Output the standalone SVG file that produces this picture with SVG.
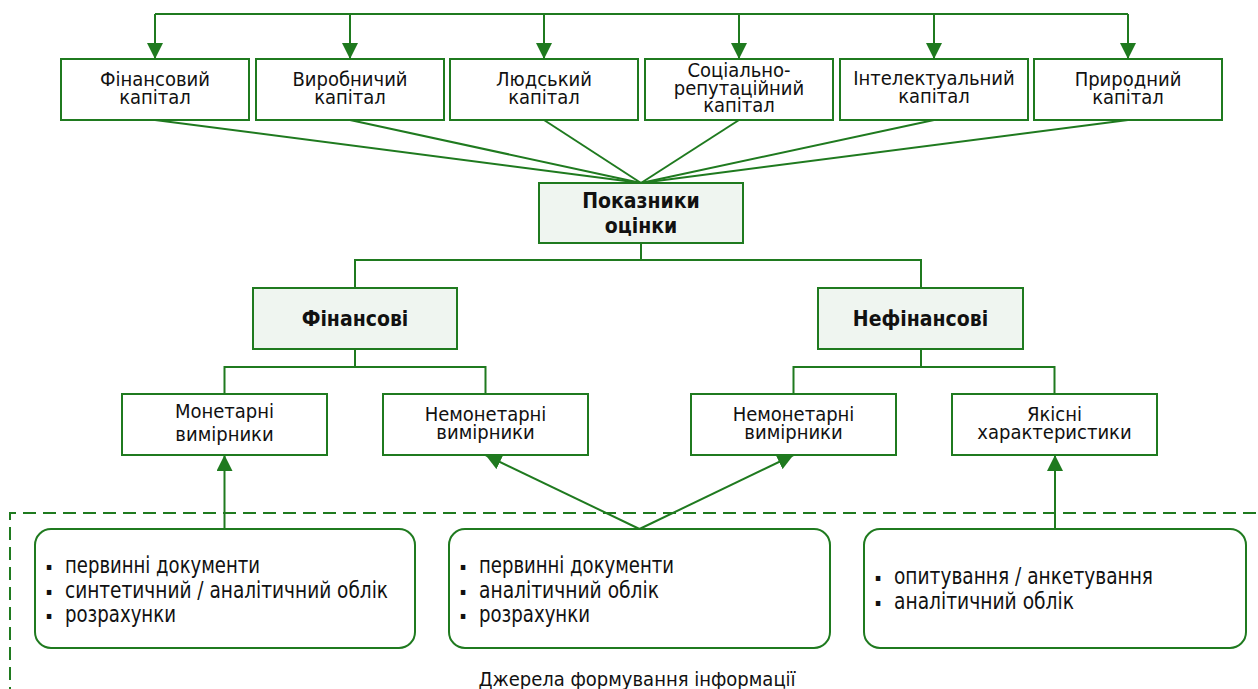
<svg xmlns="http://www.w3.org/2000/svg" width="1258" height="689" viewBox="0 0 1258 689">
<style>
.box{fill:#ffffff;stroke:#1f7a1f;stroke-width:2}
.hbox{fill:#eff5f0;stroke:#1f7a1f;stroke-width:2}
.rbox{fill:#ffffff;stroke:#1f7a1f;stroke-width:2}
.ln{fill:none;stroke:#1f7a1f;stroke-width:2}
.dash{fill:none;stroke:#1f7a1f;stroke-width:2;stroke-dasharray:13 7}
text{font-family:"DejaVu Sans Condensed","DejaVu Sans",sans-serif;font-stretch:condensed;font-size:20px;fill:#111}
.c{text-anchor:middle}
.b{font-weight:bold;font-size:21px}
.li{font-size:23px}
.bu{font-size:10px}
</style>
<defs>
<marker id="arr" markerUnits="userSpaceOnUse" markerWidth="16" markerHeight="16" refX="16" refY="8" orient="auto">
<path d="M0,0 L16,8 L0,16 z" fill="#1f7a1f"/>
</marker>
</defs>
<g id="connectors">
<path class="ln" d="M155,14 H1128"/>
<line class="ln" x1="155" y1="14" x2="155" y2="59" marker-end="url(#arr)"/>
<line class="ln" x1="350" y1="14" x2="350" y2="59" marker-end="url(#arr)"/>
<line class="ln" x1="544" y1="14" x2="544" y2="59" marker-end="url(#arr)"/>
<line class="ln" x1="739" y1="14" x2="739" y2="59" marker-end="url(#arr)"/>
<line class="ln" x1="934" y1="14" x2="934" y2="59" marker-end="url(#arr)"/>
<line class="ln" x1="1128" y1="14" x2="1128" y2="59" marker-end="url(#arr)"/>
<line class="ln" x1="155" y1="120" x2="641" y2="183"/>
<line class="ln" x1="350" y1="120" x2="641" y2="183"/>
<line class="ln" x1="544" y1="120" x2="641" y2="183"/>
<line class="ln" x1="739" y1="120" x2="641" y2="183"/>
<line class="ln" x1="934" y1="120" x2="641" y2="183"/>
<line class="ln" x1="1128" y1="120" x2="641" y2="183"/>
<path class="ln" d="M641,243 V260 M355,288 V260 H921 V288"/>
<path class="ln" d="M355,349 V367 M224.5,394 V367 H485.5 V394"/>
<path class="ln" d="M921,349 V367 M793.5,394 V367 H1054.5 V394"/>
<line class="ln" x1="224.5" y1="529" x2="224.5" y2="455" marker-end="url(#arr)"/>
<line class="ln" x1="639.5" y1="529" x2="485.5" y2="455" marker-end="url(#arr)"/>
<line class="ln" x1="639.5" y1="529" x2="793.5" y2="455" marker-end="url(#arr)"/>
<line class="ln" x1="1055" y1="529" x2="1055" y2="455" marker-end="url(#arr)"/>
</g>
<g id="sources-frame">
<path class="dash" d="M10,700 V513 H1270"/>
<text class="c" x="637" y="686">Джерела формування інформації</text>
</g>
<g id="n-fin-cap">
<rect class="box" x="61" y="59" width="188" height="61"/>
<text class="c" x="155" y="86">Фінансовий<tspan x="155" dy="17.5">капітал</tspan></text>
</g>
<g id="n-prod-cap">
<rect class="box" x="256" y="59" width="188" height="61"/>
<text class="c" x="350" y="86">Виробничий<tspan x="350" dy="17.5">капітал</tspan></text>
</g>
<g id="n-hum-cap">
<rect class="box" x="450" y="59" width="188" height="61"/>
<text class="c" x="544" y="86">Людський<tspan x="544" dy="17.5">капітал</tspan></text>
</g>
<g id="n-soc-cap">
<rect class="box" x="645" y="59" width="188" height="61"/>
<text class="c" x="739" y="77">Соціально-<tspan x="739" dy="17.5">репутаційний</tspan><tspan x="739" dy="17.5">капітал</tspan></text>
</g>
<g id="n-int-cap">
<rect class="box" x="840" y="59" width="188" height="61"/>
<text class="c" x="934" y="85">Інтелектуальний<tspan x="934" dy="17.5">капітал</tspan></text>
</g>
<g id="n-nat-cap">
<rect class="box" x="1034" y="59" width="188" height="61"/>
<text class="c" x="1128" y="86">Природний<tspan x="1128" dy="17.5">капітал</tspan></text>
</g>
<g id="n-indicators">
<rect class="hbox" x="539" y="183" width="204" height="60"/>
<text class="c b" x="641" y="208">Показники<tspan x="641" dy="25">оцінки</tspan></text>
</g>
<g id="n-financial">
<rect class="hbox" x="253" y="288" width="204" height="61"/>
<text class="c b" x="355" y="326">Фінансові</text>
</g>
<g id="n-nonfinancial">
<rect class="hbox" x="818" y="288" width="205" height="61"/>
<text class="c b" x="920.5" y="326">Нефінансові</text>
</g>
<g id="n-monetary">
<rect class="box" x="122" y="394" width="205" height="61"/>
<text class="c" x="224.5" y="418">Монетарні<tspan x="224.5" dy="23">вимірники</tspan></text>
</g>
<g id="n-nonmonetary-1">
<rect class="box" x="383" y="394" width="205" height="61"/>
<text class="c" x="485.5" y="421">Немонетарні<tspan x="485.5" dy="18">вимірники</tspan></text>
</g>
<g id="n-nonmonetary-2">
<rect class="box" x="691" y="394" width="205" height="61"/>
<text class="c" x="793.5" y="421">Немонетарні<tspan x="793.5" dy="18">вимірники</tspan></text>
</g>
<g id="n-qualitative">
<rect class="box" x="952" y="394" width="205" height="61"/>
<text class="c" x="1054.5" y="421">Якісні<tspan x="1054.5" dy="18">характеристики</tspan></text>
</g>
<g id="n-src-1">
<rect class="rbox" x="35" y="529" width="380" height="119" rx="16"/>
<text class="bu" x="46" y="570">▪</text><text class="li" x="65" y="573" textLength="195" lengthAdjust="spacingAndGlyphs">первинні документи</text>
<text class="bu" x="46" y="594.5">▪</text><text class="li" x="65" y="597.5" textLength="323" lengthAdjust="spacingAndGlyphs">синтетичний / аналітичний облік</text>
<text class="bu" x="46" y="619">▪</text><text class="li" x="65" y="622" textLength="111" lengthAdjust="spacingAndGlyphs">розрахунки</text>
</g>
<g id="n-src-2">
<rect class="rbox" x="449" y="529" width="381" height="119" rx="16"/>
<text class="bu" x="460" y="570">▪</text><text class="li" x="479" y="573" textLength="195" lengthAdjust="spacingAndGlyphs">первинні документи</text>
<text class="bu" x="460" y="594.5">▪</text><text class="li" x="479" y="597.5" textLength="180" lengthAdjust="spacingAndGlyphs">аналітичний облік</text>
<text class="bu" x="460" y="619">▪</text><text class="li" x="479" y="622" textLength="111" lengthAdjust="spacingAndGlyphs">розрахунки</text>
</g>
<g id="n-src-3">
<rect class="rbox" x="864" y="529" width="382" height="119" rx="16"/>
<text class="bu" x="875" y="581">▪</text><text class="li" x="894" y="584" textLength="259" lengthAdjust="spacingAndGlyphs">опитування / анкетування</text>
<text class="bu" x="875" y="606">▪</text><text class="li" x="894" y="609" textLength="180" lengthAdjust="spacingAndGlyphs">аналітичний облік</text>
</g>
</svg>
